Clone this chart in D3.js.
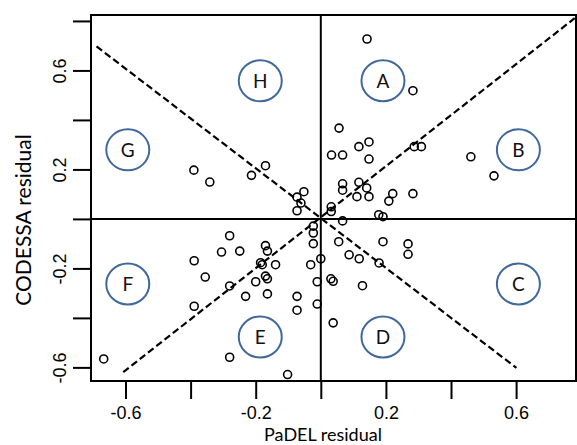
<!DOCTYPE html>
<html>
<head>
<meta charset="utf-8">
<script src="https://cdn.jsdelivr.net/npm/d3@7/dist/d3.min.js"></script>
<style>
  body { margin: 0; background: #fff; }
  svg { display: block; }
</style>
</head>
<body>
<div id="chart"></div>
<script>
// residual pairs: [PaDEL, CODESSA]
var points = [
    [-0.390, 0.197], [-0.341, 0.149], [-0.213, 0.176], [-0.170, 0.215],
    [-0.052, 0.110], [-0.073, 0.088], [-0.061, 0.064], [-0.073, 0.033],
    [0.142, 0.727], [0.283, 0.518], [0.056, 0.367], [0.148, 0.311],
    [0.117, 0.292], [0.033, 0.258], [0.067, 0.258], [0.148, 0.242],
    [0.287, 0.292], [0.309, 0.292], [0.461, 0.251], [0.532, 0.174],
    [0.067, 0.142], [0.067, 0.116], [0.117, 0.148], [0.141, 0.125],
    [0.111, 0.090], [0.148, 0.090], [0.221, 0.102], [0.209, 0.072],
    [0.283, 0.102], [0.032, 0.049], [0.032, 0.030], [0.178, 0.017],
    [0.191, 0.009],
    [0.067, -0.008], [0.055, -0.092], [0.191, -0.092], [0.268, -0.101],
    [0.268, -0.143], [0.087, -0.145], [0.118, -0.161], [0.179, -0.178],
    [0.031, -0.242], [0.038, -0.252], [0.128, -0.270], [0.038, -0.420],
    [-0.023, -0.029], [-0.023, -0.057], [-0.023, -0.100], [0.000, -0.161],
    [-0.031, -0.185], [-0.011, -0.254], [-0.011, -0.344],
    [-0.280, -0.068], [-0.305, -0.134], [-0.249, -0.130], [-0.170, -0.108],
    [-0.164, -0.130], [-0.389, -0.169], [-0.185, -0.177], [-0.180, -0.185],
    [-0.139, -0.185], [-0.355, -0.235], [-0.170, -0.231], [-0.164, -0.242],
    [-0.200, -0.254], [-0.280, -0.271], [-0.231, -0.313], [-0.164, -0.303],
    [-0.073, -0.313], [-0.389, -0.353], [-0.073, -0.369], [-0.667, -0.566],
    [-0.280, -0.559], [-0.102, -0.629]
];

// region markers
var regionNames = ["A", "B", "C", "D", "E", "F", "G", "H"];
var regionX = [0.191, 0.607, 0.607, 0.191, -0.186, -0.593, -0.593, -0.186];
var regionY = [0.558, 0.279, -0.263, -0.477, -0.477, -0.263, 0.279, 0.558];

// dashed diagonals
var diagonals = [
    [[-0.689, 0.697], [0.601, -0.602]],
    [[-0.607, -0.619], [0.780, 0.811]]
];

var xTicks = [-0.6, -0.4, -0.2, 0, 0.2, 0.4, 0.6];
var xLabels = [-0.6, -0.2, 0.2, 0.6];
var yTicks = [-0.6, -0.4, -0.2, 0, 0.2, 0.4, 0.6, 0.8];
var yLabels = [-0.6, -0.2, 0.2, 0.6];

var width = 577, height = 445;
var plot = {left: 91, right: 576, top: 15, bottom: 381};

var svg = d3.select("#chart").append("svg")
    .attr("width", width)
    .attr("height", height);

svg.append("rect")
    .attr("width", width)
    .attr("height", height)
    .attr("fill", "#fff");

var x = d3.scaleLinear().domain([-0.706, 0.784]).range([plot.left, plot.right]);
var y = d3.scaleLinear().domain([-0.655, 0.824]).range([plot.bottom, plot.top]);

var fmt = function(d) { return xLabels.indexOf(d) >= 0 ? d3.format(".1f")(d).replace("\u2212", "-") : ""; };
var fmtY = function(d) { return yLabels.indexOf(d) >= 0 ? d3.format(".1f")(d).replace("\u2212", "-") : ""; };

// x axis
var xAxis = svg.append("g")
    .attr("transform", "translate(0," + plot.bottom + ")")
    .call(d3.axisBottom(x).tickValues(xTicks).tickSize(18).tickPadding(7).tickFormat(fmt));
xAxis.select(".domain").remove();
xAxis.selectAll("line").attr("stroke", "#000").attr("stroke-width", 2);
xAxis.selectAll("text")
    .attr("fill", "#000")
    .style("font-family", "'Liberation Sans', Arial, sans-serif")
    .style("font-size", "18px");

// y axis
var yAxis = svg.append("g")
    .attr("transform", "translate(" + plot.left + ",0)")
    .call(d3.axisLeft(y).tickValues(yTicks).tickSize(18).tickFormat(fmtY));
yAxis.select(".domain").remove();
yAxis.selectAll("line").attr("stroke", "#000").attr("stroke-width", 2);
yAxis.selectAll("text")
    .attr("fill", "#000")
    .attr("x", null).attr("dy", null)
    .attr("text-anchor", "middle")
    .attr("transform", "translate(-25,0) rotate(-90)")
    .style("font-family", "'Liberation Sans', Arial, sans-serif")
    .style("font-size", "18px");

// zero lines
svg.append("line")
    .attr("x1", x(0)).attr("x2", x(0))
    .attr("y1", plot.top).attr("y2", plot.bottom)
    .attr("stroke", "#000").attr("stroke-width", 2);
svg.append("line")
    .attr("x1", plot.left).attr("x2", plot.right)
    .attr("y1", y(0)).attr("y2", y(0))
    .attr("stroke", "#000").attr("stroke-width", 2);

// diagonals
svg.selectAll(".diag")
    .data(diagonals)
    .enter().append("line")
    .attr("class", "diag")
    .attr("x1", function(d) { return x(d[0][0]); })
    .attr("y1", function(d) { return y(d[0][1]); })
    .attr("x2", function(d) { return x(d[1][0]); })
    .attr("y2", function(d) { return y(d[1][1]); })
    .attr("stroke", "#000")
    .attr("stroke-width", 2.2)
    .attr("stroke-dasharray", "7,3.5");

// points
svg.selectAll(".pt")
    .data(points)
    .enter().append("circle")
    .attr("class", "pt")
    .attr("cx", function(d) { return x(d[0]); })
    .attr("cy", function(d) { return y(d[1]); })
    .attr("r", 4)
    .attr("fill", "none")
    .attr("stroke", "#000")
    .attr("stroke-width", 1.6);

// region labels
var regions = svg.selectAll(".region")
    .data(regionNames)
    .enter().append("g")
    .attr("class", "region")
    .attr("transform", function(d, i) { return "translate(" + x(regionX[i]) + "," + y(regionY[i]) + ")"; });
regions.append("ellipse")
    .attr("rx", 21.5)
    .attr("ry", 20.5)
    .attr("fill", "#fff")
    .attr("stroke", "#41689b")
    .attr("stroke-width", 2);
regions.append("text")
    .attr("text-anchor", "middle")
    .attr("dy", "0.36em")
    .style("font-family", "Lato, 'Open Sans', sans-serif")
    .style("font-size", "19px")
    .attr("fill", "#111")
    .text(function(d) { return d; });

// box
svg.append("rect")
    .attr("x", plot.left).attr("y", plot.top)
    .attr("width", plot.right - plot.left)
    .attr("height", plot.bottom - plot.top)
    .attr("fill", "none")
    .attr("stroke", "#000")
    .attr("stroke-width", 2);

// titles
svg.append("text")
    .attr("x", 323).attr("y", 441)
    .attr("text-anchor", "middle")
    .style("font-family", "Lato, 'Open Sans', sans-serif")
    .style("font-size", "18px")
    .text("PaDEL residual");
svg.append("text")
    .attr("transform", "translate(31,220) rotate(-90)")
    .attr("text-anchor", "middle")
    .style("font-family", "Lato, 'Open Sans', sans-serif")
    .style("font-size", "21px")
    .text("CODESSA residual");
</script>
</body>
</html>
